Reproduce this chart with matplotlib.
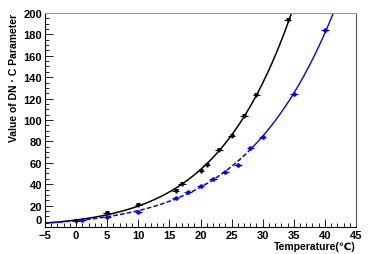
import numpy as np
import matplotlib
matplotlib.use("Agg")
import matplotlib.pyplot as plt
from matplotlib.ticker import MultipleLocator, FuncFormatter

plt.rcParams['font.family'] = ['Liberation Sans', 'DejaVu Sans']

temp_dn = [0, 5, 10, 16, 17, 20, 21, 23, 25, 27, 29, 34]
val_dn = [6.0, 12.8, 20.7, 34.1, 40.4, 51.9, 57.6, 71.6, 85.2, 104.0, 123.3, 193.7]
temp_c = [1, 5, 10, 16, 18, 20, 22, 24, 26, 28, 30, 35, 40]
val_c = [6.5, 9.7, 14.4, 26.9, 32.6, 38.2, 44.4, 51.3, 58.2, 73.9, 83.9, 124.0, 183.7]
xerr = 0.6

fig = plt.figure(figsize=(3.74, 2.55), dpi=100)
ax = fig.add_axes([0.1203, 0.1059, 0.8316, 0.8392])


def fit_curve(t, v, x0, x1):
    # exponential-like fit: quadratic in log space
    p = np.polyfit(t, np.log(v), 2)
    xs = np.linspace(x0, x1, 400)
    return xs, np.exp(np.polyval(p, xs))


xs, ys = fit_curve(temp_dn, val_dn, -5, 45)
ax.plot(xs, ys, color='black', lw=1.1)
ax.errorbar(temp_dn, val_dn, xerr=xerr, fmt='v', ms=2.5, color='black',
            elinewidth=0.8, capsize=0)

xs, ys = fit_curve(temp_c, val_c, -5, 45)
lo = xs <= 28
ax.plot(xs[lo], ys[lo], color='blue', lw=1.1, ls=(0, (3, 1.5)))
ax.plot(xs[~lo], ys[~lo], color='blue', lw=1.0)
ax.errorbar(temp_c, val_c, xerr=xerr, fmt='o', ms=2.2, color='blue',
            elinewidth=0.8, capsize=0)

ax.set_xlim(-5, 45)
ax.set_ylim(0, 200)
ax.xaxis.set_major_locator(MultipleLocator(5))
ax.xaxis.set_minor_locator(MultipleLocator(1))
ax.yaxis.set_major_locator(MultipleLocator(20))
ax.yaxis.set_minor_locator(MultipleLocator(5))
# root-style: the "0" on the y axis is lifted so it clears the "-5"
ax.yaxis.set_major_formatter(FuncFormatter(lambda v, p: '' if v == 0 else f'{v:.0f}'))
ax.text(-0.012, 7.0, '0', transform=ax.get_yaxis_transform(), ha='right',
        va='center', fontsize=8, fontweight='bold')
ax.tick_params(which='both', direction='in', top=False, right=False,
               labelsize=8, pad=2)
ax.tick_params(which='major', length=6, width=0.6)
ax.tick_params(which='minor', length=3, width=0.6)
for lab in ax.get_xticklabels() + ax.get_yticklabels():
    lab.set_fontweight('bold')
ax.spines['top'].set_color('#999999')
ax.spines['right'].set_color('#555555')
for s in ax.spines.values():
    s.set_linewidth(0.8)

ax.set_xlabel('Temperature(\u2103)', fontsize=7.5, fontweight='bold',
              loc='right', labelpad=1)
ax.set_ylabel('Value of DN \u00b7 C Parameter', fontsize=7.5, fontweight='bold',
              loc='top', labelpad=3)

fig.savefig('out.png', dpi=100)
